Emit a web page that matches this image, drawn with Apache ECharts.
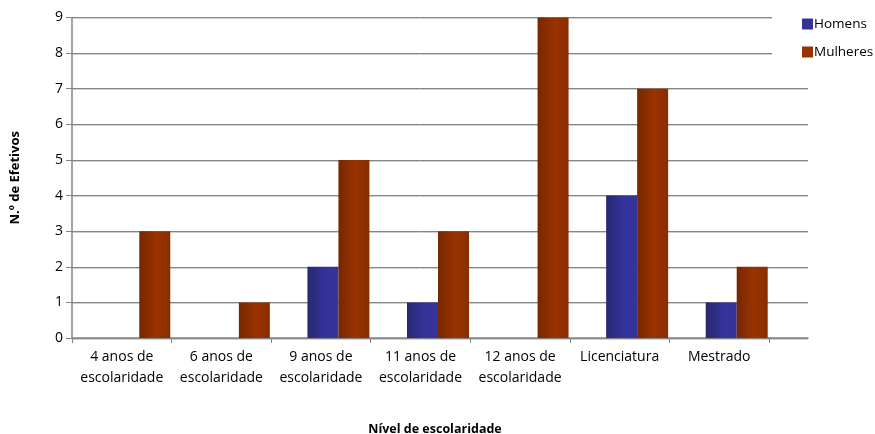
<!DOCTYPE html>
<html>
<head>
<meta charset="utf-8">
<script src="https://cdn.jsdelivr.net/npm/echarts@6/dist/echarts.min.js"></script>
<style>
  html, body { margin: 0; padding: 0; background: #fff; }
  #chart { width: 875px; height: 434px; }
</style>
</head>
<body>
<div id="chart"></div>
<script>
// Education level categories
const categories = [
  '4 anos de\nescolaridade',
  '6 anos de\nescolaridade',
  '9 anos de\nescolaridade',
  '11 anos de\nescolaridade',
  '12 anos de\nescolaridade',
  'Licenciatura',
  'Mestrado'
];
// Headcount per education level
const homens   = [0, 0, 2, 1, 0, 4, 1];
const mulheres = [3, 1, 5, 3, 9, 7, 2];
const yTicks = { min: 0, max: 9, interval: 1 };

const FONT = 'Open Sans';
const TOP = 17.5, BOTTOM = 96;
const PLOT_LEFT = 72, PLOT_W = 697, EXT_W = 39, BAR_SHIFT = 17.5;

const gridLine = {
  show: true,
  lineStyle: { color: '#858585', width: 1, shadowColor: '#d0d0d0', shadowOffsetY: 1, shadowBlur: 0 }
};

const chart = echarts.init(document.getElementById('chart'), null, { renderer: 'canvas' });

chart.setOption({
  animation: false,
  backgroundColor: '#ffffff',
  textStyle: { fontFamily: FONT },
  title: [{
    text: 'Nível de escolaridade',
    left: 430, top: 418, textAlign: 'center',
    textStyle: { fontFamily: FONT, fontSize: 12.5, fontWeight: 'bold', color: '#000' }
  }],
  legend: {
    orient: 'vertical',
    left: 772, top: 0,
    padding: [17, 10, 12, 30],
    backgroundColor: '#ffffff',
    itemWidth: 11, itemHeight: 11, itemGap: 14,
    icon: 'rect',
    textStyle: { fontFamily: FONT, fontSize: 13.5, color: '#000', padding: [0, 0, 0, -4] },
    data: [
      { name: 'Homens', itemStyle: { color: '#333399' } },
      { name: 'Mulheres', itemStyle: { color: '#993300' } }
    ]
  },
  grid: [
    // axes and labels
    { left: PLOT_LEFT, top: TOP, width: PLOT_W, bottom: BOTTOM },
    // right-hand extension of the plot area
    { left: PLOT_LEFT + PLOT_W, top: TOP, width: EXT_W, bottom: BOTTOM },
    // bar grid
    { left: PLOT_LEFT + BAR_SHIFT, top: TOP, width: PLOT_W, bottom: BOTTOM }
  ],
  xAxis: [
    {
      gridIndex: 0, type: 'category', data: categories, boundaryGap: true,
      axisLine: { lineStyle: { color: '#868686', width: 1.5 } },
      axisTick: { show: true, length: 5, interval: 0, lineStyle: { color: '#868686' } },
      axisLabel: { interval: 0, color: '#000', fontSize: 14, fontFamily: FONT, lineHeight: 21, margin: 9 }
    },
    {
      gridIndex: 1, type: 'category', data: [''],
      axisLine: { lineStyle: { color: '#868686', width: 1.5 } },
      axisTick: { show: false }, axisLabel: { show: false }
    },
    {
      gridIndex: 2, type: 'category', data: categories, show: false
    }
  ],
  yAxis: [
    {
      gridIndex: 0, type: 'value', min: yTicks.min, max: yTicks.max, interval: yTicks.interval,
      name: 'N.º de Efetivos', nameLocation: 'middle', nameGap: 50, nameRotate: 90,
      nameTextStyle: { fontFamily: FONT, fontSize: 13, fontWeight: 'bold', color: '#000' },
      axisLine: { show: true, lineStyle: { color: '#868686', width: 1.5 } },
      axisTick: { show: true, length: 6, lineStyle: { color: '#868686' } },
      axisLabel: { color: '#000', fontSize: 14, fontFamily: FONT, margin: 9 },
      splitLine: gridLine
    },
    {
      gridIndex: 1, type: 'value', min: yTicks.min, max: yTicks.max, interval: yTicks.interval,
      axisLine: { show: false }, axisTick: { show: false }, axisLabel: { show: false },
      splitLine: gridLine
    },
    {
      gridIndex: 2, type: 'value', min: yTicks.min, max: yTicks.max, interval: yTicks.interval,
      show: false, splitLine: { show: false }
    }
  ],
  series: [
    {
      name: 'Homens', type: 'bar', xAxisIndex: 2, yAxisIndex: 2,
      data: homens, barWidth: 31, barGap: '0%',
      itemStyle: {
        color: new echarts.graphic.LinearGradient(0, 0, 1, 0, [
          { offset: 0, color: '#28286f' },
          { offset: 0.55, color: '#33339a' },
          { offset: 1, color: '#34349a' }
        ])
      }
    },
    {
      name: 'Mulheres', type: 'bar', xAxisIndex: 2, yAxisIndex: 2,
      data: mulheres, barWidth: 31, barGap: '0%',
      itemStyle: {
        color: new echarts.graphic.LinearGradient(0, 0, 1, 0, [
          { offset: 0, color: '#762700' },
          { offset: 0.55, color: '#9a3300' },
          { offset: 1, color: '#8a2d00' }
        ])
      }
    }
  ]
});
</script>
</body>
</html>
